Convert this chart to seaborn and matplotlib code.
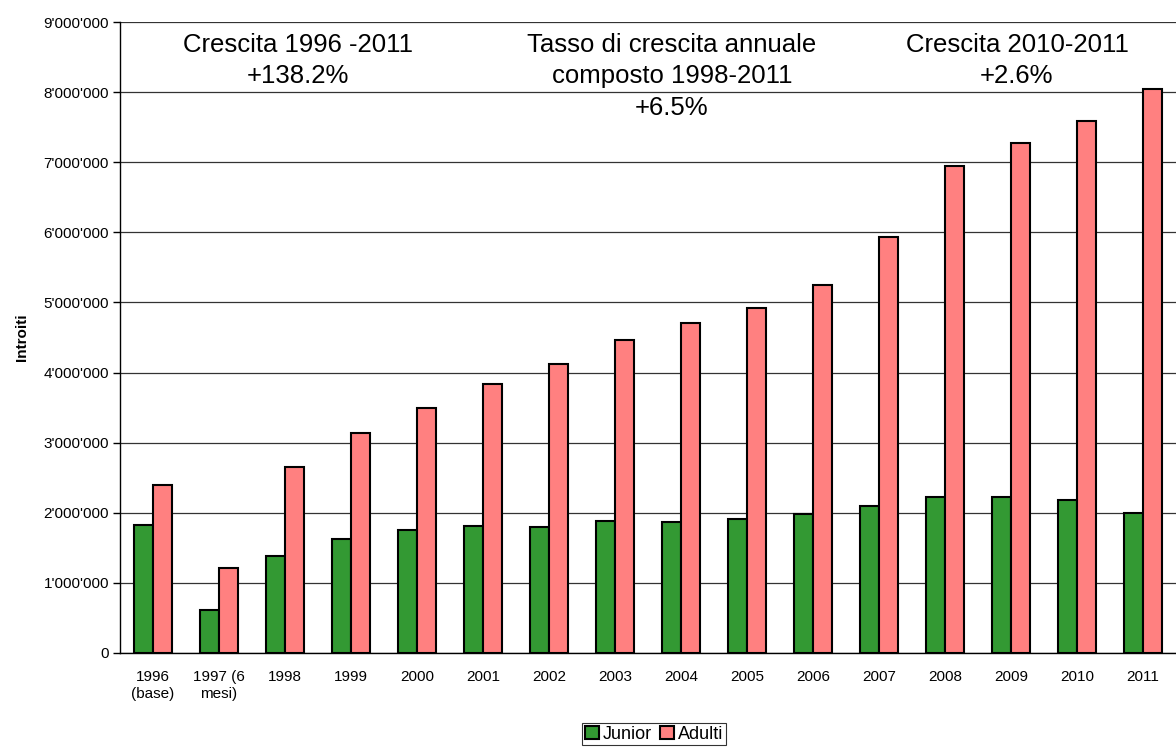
import matplotlib
matplotlib.use("Agg")
import matplotlib.pyplot as plt
import matplotlib.ticker as mticker
from matplotlib.patches import Patch
import seaborn as sns
import pandas as pd

# Annual revenue by visitor group
anni = ["1996\n(base)", "1997 (6\nmesi)", "1998", "1999", "2000", "2001", "2002", "2003",
        "2004", "2005", "2006", "2007", "2008", "2009", "2010", "2011"]
junior = [1830000, 620000, 1380000, 1630000, 1755000, 1810000, 1800000, 1880000,
          1870000, 1910000, 1980000, 2090000, 2230000, 2220000, 2180000, 1990000]
adulti = [2390000, 1210000, 2650000, 3140000, 3490000, 3830000, 4120000, 4460000,
          4710000, 4920000, 5250000, 5930000, 6950000, 7280000, 7590000, 8050000]
gruppi = ["Junior", "Adulti"]
colori = ["#339933", "#FF8080"]

df = pd.DataFrame({
    "Anno": anni * 2,
    "Introiti": junior + adulti,
    "Gruppo": [gruppi[0]] * len(anni) + [gruppi[1]] * len(anni),
})

sns.set_style("white")
plt.rcParams["font.family"] = ["Liberation Sans", "DejaVu Sans"]
plt.rcParams.update({"text.color": "black", "axes.labelcolor": "black",
                     "xtick.color": "black", "ytick.color": "black"})

fig = plt.figure(figsize=(11.76, 7.47), dpi=100)
ax = fig.add_axes([120 / 1176, 94 / 747, 1056 / 1176, 631 / 747])

sns.barplot(data=df, x="Anno", y="Introiti", hue="Gruppo", palette=colori,
            width=0.58, edgecolor="black", linewidth=1.5, saturation=1,
            ax=ax, legend=False, zorder=3)

ax.set_ylim(0, 9000000)
ax.set_xlim(-0.5, -0.5 + 1056 / 66.75)
ax.yaxis.set_major_locator(mticker.MultipleLocator(1000000))
ax.yaxis.set_major_formatter(
    mticker.FuncFormatter(lambda v, p: f"{int(v):,}".replace(",", "'")))
ax.grid(axis="y", color="#333333", linewidth=0.9, zorder=0)
ax.set_axisbelow(True)

for s in ["top", "right"]:
    ax.spines[s].set_visible(False)
for s in ["left", "bottom"]:
    ax.spines[s].set_color("black")
    ax.spines[s].set_linewidth(1.0)

# category labels centered, tick marks between categories
ax.set_xticks(range(len(anni)))
ax.set_xticklabels(anni, fontsize=11, linespacing=1.3)
ax.tick_params(axis="x", which="major", length=0, pad=12)
ax.set_xticks([i - 0.5 for i in range(len(anni) + 1)], minor=True)
ax.tick_params(axis="x", which="minor", length=5, width=1, color="black", direction="out")
ax.tick_params(axis="y", length=5, width=1, color="black", direction="out", left=True,
               labelsize=11, pad=3)

ax.set_xlabel("")
ax.set_ylabel("Introiti", fontsize=11, fontweight="bold", labelpad=10)

# headline annotations
testo = dict(ha="center", va="top", fontsize=18.5, linespacing=1.4, zorder=5)
ax.text(2.20, 8850000, "Crescita 1996 -2011\n+138.2%", **testo)
ax.text(7.86, 8850000, "Tasso di crescita annuale\ncomposto 1998-2011\n+6.5%", **testo)
ax.text(13.09, 8850000, "Crescita 2010-2011\n+2.6%", **testo)

handles = [Patch(facecolor=c, edgecolor="black", linewidth=1.5) for c in colori]
leg = fig.legend(handles, gruppi, loc="upper center", bbox_to_anchor=(654 / 1176, 1 - 723 / 747),
                 ncol=2, frameon=True, fancybox=False, edgecolor="black", fontsize=13,
                 handlelength=0.75, handleheight=0.75, handletextpad=0.2, columnspacing=0.5,
                 borderpad=0.15, borderaxespad=0)
leg.get_frame().set_linewidth(0.8)

fig.savefig("out.png", dpi=100)
